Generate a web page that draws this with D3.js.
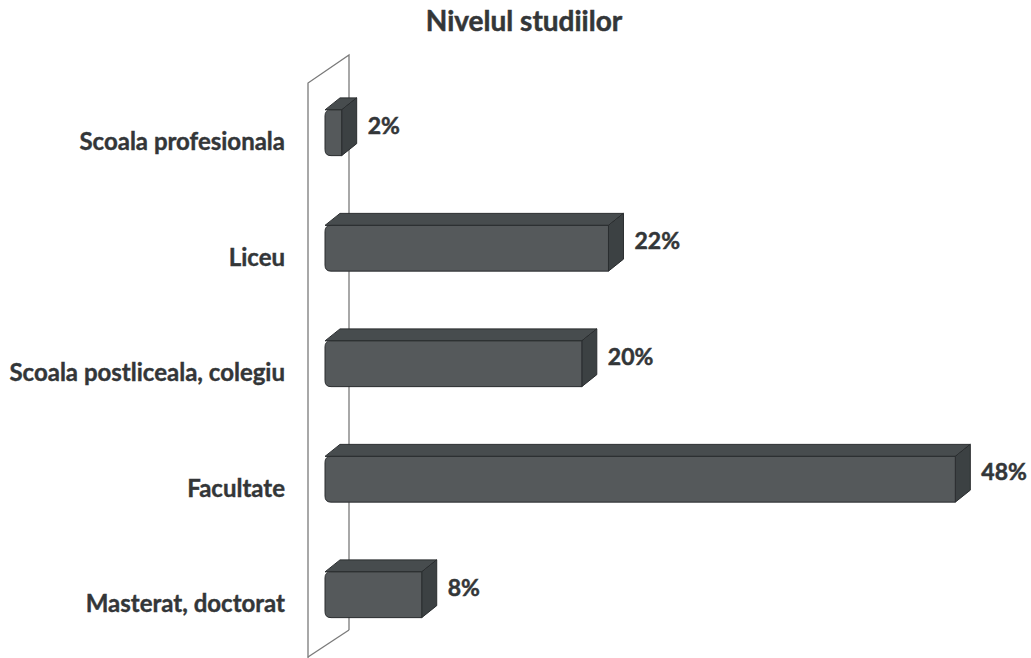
<!DOCTYPE html>
<html>
<head>
<meta charset="utf-8">
<script src="https://cdn.jsdelivr.net/npm/d3@7"></script>
<style>
  html, body { margin: 0; padding: 0; background: #fff; }
  svg { display: block; font-family: Lato, "Noto Sans", sans-serif; }
</style>
</head>
<body>
<svg id="chart" width="1031" height="658"></svg>
<script>
const categories = ["Scoala profesionala", "Liceu", "Scoala postliceala, colegiu", "Facultate", "Masterat, doctorat"];
const values = [2, 22, 20, 48, 8];
const valueLabels = ["2%", "22%", "20%", "48%", "8%"];

const svg = d3.select("#chart");
const width = 1031, height = 658;

// 3d depth of bars and of the wall
const bd = { x: 15, y: 12 };
const wd = { x: 41, y: 28 };

const x = d3.scaleLinear().domain([0, 50]).range([315, 982]);
const y = d3.scaleBand().domain(categories).range([69, 646.5]).paddingInner(0.5).paddingOuter(0.25);

const data = categories.map((c, i) => ({ cat: c, value: values[i], label: valueLabels[i] }));

const textColor = "#333638";

// title
svg.append("text")
  .attr("x", 524)
  .attr("y", 31)
  .attr("text-anchor", "middle")
  .attr("font-size", "28px")
  .attr("font-weight", "bold")
  .attr("fill", textColor)
  .attr("stroke", textColor)
  .attr("stroke-width", 0.5)
  .text("Nivelul studiilor");

// side wall (left plane)
const wx = 308;
svg.append("path")
  .attr("d", `M${wx},${height + 2} L${wx},${83} L${wx + wd.x},${83 - wd.y} L${wx + wd.x},${630}`)
  .attr("fill", "none")
  .attr("stroke", "#7a7a7a")
  .attr("stroke-width", 1.3);
svg.append("path")
  .attr("d", `M${wx},${657} L${wx + wd.x},${630}`)
  .attr("fill", "none")
  .attr("stroke", "#7a7a7a")
  .attr("stroke-width", 1.3);

const left = 325;
const bars = svg.selectAll(".bar").data(data).join("g").attr("class", "bar");

bars.each(function(d) {
  const g = d3.select(this);
  const top = y(d.cat);
  const bot = top + y.bandwidth();
  const r = x(d.value);
  const ft = top + bd.y; // front face top
  const c = 6;
  // top face
  g.append("path")
    .attr("d", `M${left},${ft} L${left + bd.x},${top} L${r + bd.x},${top} L${r},${ft} Z`)
    .attr("fill", "#474c4e")
    .attr("stroke", "#2a2d2f")
    .attr("stroke-width", 1);
  // right face
  g.append("path")
    .attr("d", `M${r},${ft} L${r + bd.x},${top} L${r + bd.x},${bot - bd.y} L${r},${bot} Z`)
    .attr("fill", "#3c4143")
    .attr("stroke", "#2a2d2f")
    .attr("stroke-width", 1);
  // front face, rounded on the left
  g.append("path")
    .attr("d", `M${r},${ft} L${left + c},${ft} Q${left},${ft} ${left},${ft + c} L${left},${bot - c} Q${left},${bot} ${left + c},${bot} L${r},${bot} Z`)
    .attr("fill", "#55595b")
    .attr("stroke", "#2a2d2f")
    .attr("stroke-width", 1);
  // value label
  g.append("text")
    .attr("x", r + bd.x + 11)
    .attr("y", top + 28)
    .attr("dy", "0.35em")
    .attr("font-size", "23px")
    .attr("font-weight", "bold")
    .attr("fill", textColor)
    .attr("stroke", textColor)
    .attr("stroke-width", 0.5)
    .text(d.label);
});

// category labels
svg.append("g")
  .selectAll("text")
  .data(data)
  .join("text")
  .attr("x", 285)
  .attr("y", d => y(d.cat) + 44)
  .attr("dy", "0.35em")
  .attr("text-anchor", "end")
  .attr("font-size", "24px")
  .attr("font-weight", "bold")
  .attr("fill", textColor)
  .attr("stroke", textColor)
  .attr("stroke-width", 0.4)
  .text(d => d.cat);
</script>
</body>
</html>
